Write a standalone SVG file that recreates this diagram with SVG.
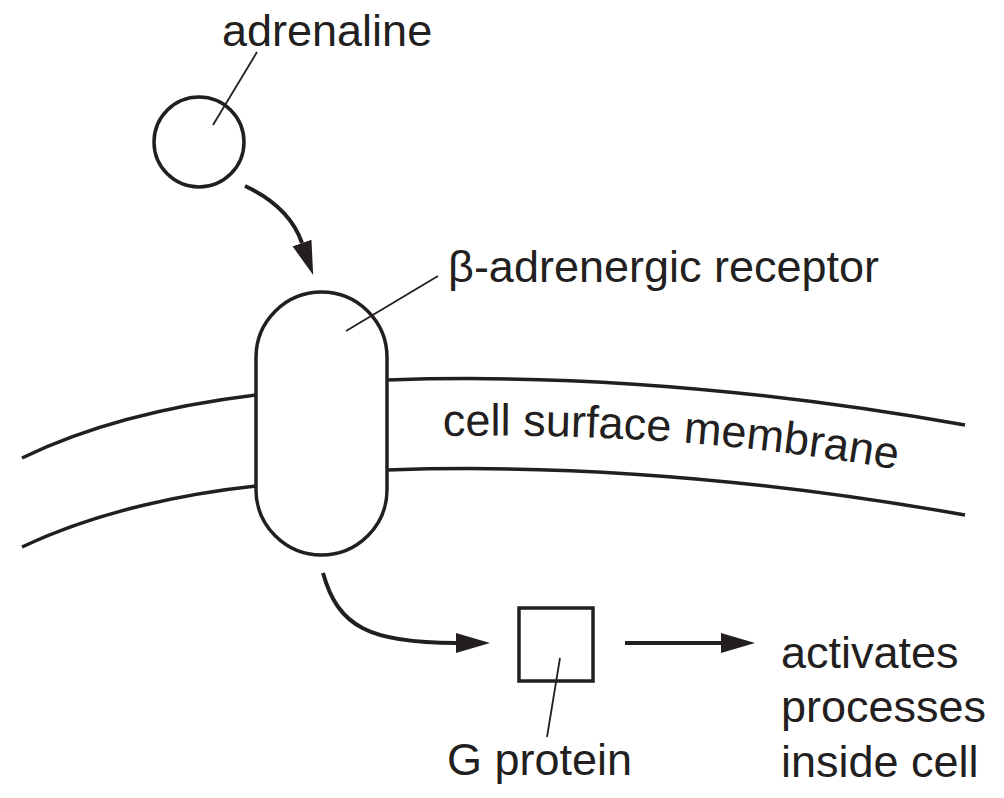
<svg xmlns="http://www.w3.org/2000/svg" width="1004" height="798" viewBox="0 0 1004 798">
<defs>
<style>
.t{font-family:"Liberation Sans",Arial,Helvetica,sans-serif;font-size:45px;fill:#231f20}
.thick{fill:none;stroke:#231f20;stroke-width:3.5}
.lead{fill:none;stroke:#231f20;stroke-width:1.8}
.arr{fill:none;stroke:#231f20;stroke-width:4;marker-end:url(#ah)}
</style>
<marker id="ah" markerUnits="userSpaceOnUse" markerWidth="40" markerHeight="24" viewBox="0 -12 40 24" refX="0" refY="0" orient="auto">
<path d="M0,-10 L34,0 L0,10 z" fill="#231f20"/>
</marker>
<path id="mp" d="M443,436 C600,433 760,444 910,472"/>
</defs>
<rect width="1004" height="798" fill="#fff"/>
<g id="membrane">
<path class="thick" d="M22,458 C100,420 190,403 256,395"/>
<path class="thick" d="M22,547 C100,510 190,493 256,486"/>
<path class="thick" d="M387,380 C500,376 700,378 965,425"/>
<path class="thick" d="M387,470 C500,466 700,468 965,515"/>
<text class="t"><textPath href="#mp">cell surface membrane</textPath></text>
</g>
<g id="adrenaline">
<circle class="thick" cx="199" cy="142" r="45"/>
<line class="lead" x1="257" y1="52" x2="213" y2="125"/>
<text class="t" x="222" y="46">adrenaline</text>
</g>
<g id="receptor">
<rect class="thick" x="256" y="292" width="131" height="263" rx="65.5" ry="65.5" fill="#fff"/>
<line class="lead" x1="438" y1="276" x2="346" y2="331"/>
<text class="t" x="448" y="282">β-adrenergic receptor</text>
</g>
<g id="gprotein">
<rect class="thick" x="519" y="608" width="74" height="73" stroke-width="4"/>
<line class="lead" x1="560" y1="658" x2="547" y2="737"/>
<text class="t" x="447" y="775">G protein</text>
</g>
<g id="processes">
<text class="t" x="781" y="668">activates</text>
<text class="t" x="781" y="722">processes</text>
<text class="t" x="781" y="777">inside cell</text>
</g>
<g id="connectors">
<path class="arr" d="M245,186 C275,200 294,220 302,243"/>
<path class="arr" d="M323,573 C338,627 370,643 456,643"/>
<path class="arr" d="M625,643 L721,643"/>
</g>
</svg>
